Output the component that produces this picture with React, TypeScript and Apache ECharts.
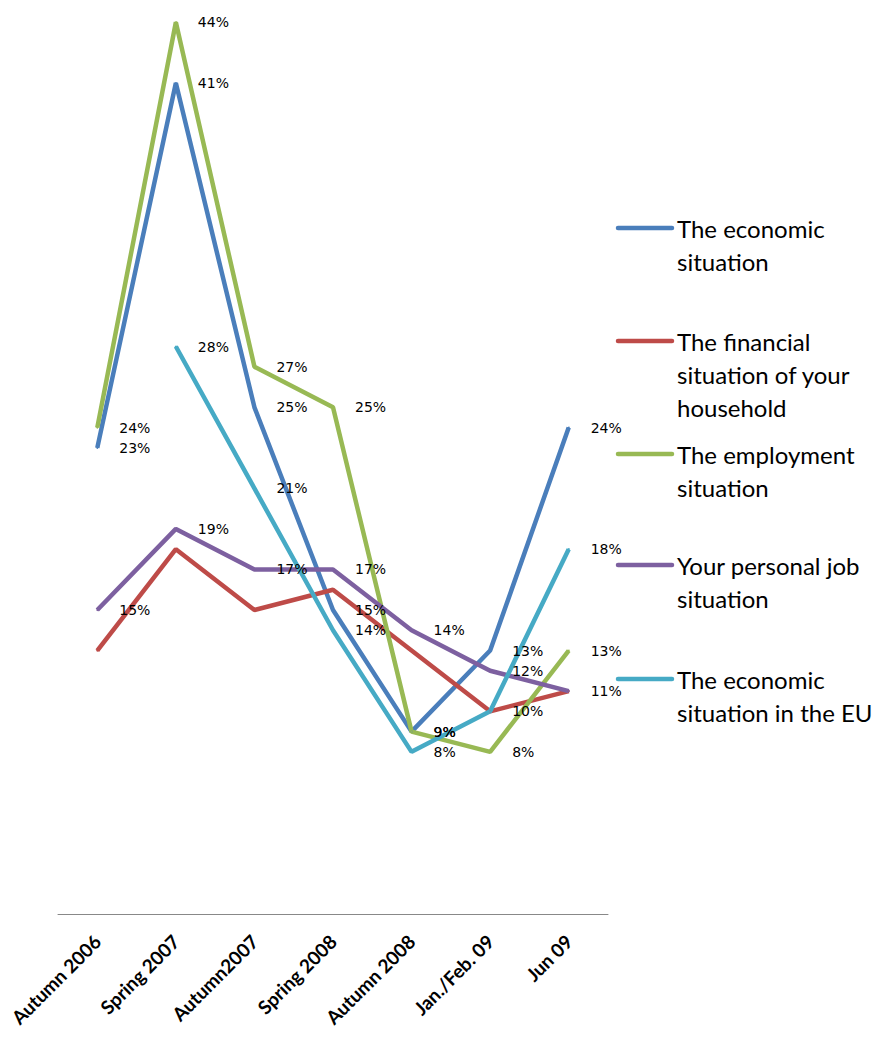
import React, { useEffect, useRef } from "react";
import * as echarts from "echarts";

const categories = [
  "Autumn 2006",
  "Spring 2007",
  "Autumn2007",
  "Spring 2008",
  "Autumn 2008",
  "Jan./Feb. 09",
  "Jun 09",
];

const seriesNames = [
  "The economic situation",
  "The financial situation of your household",
  "The employment situation",
  "Your personal job situation",
  "The economic situation in the EU",
];

const legendLabels = [
  "The economic\nsituation",
  "The financial\nsituation of your\nhousehold",
  "The employment\nsituation",
  "Your personal job\nsituation",
  "The economic\nsituation in the EU",
];

const economic = [23, 41, 25, 15, 9, 13, 24];
const financial = [13, 18, 15, 16, 13, 10, 11];
const employment = [24, 44, 27, 25, 9, 8, 13];
const personalJob = [15, 19, 17, 17, 14, 12, 11];
const economicEU = [null, 28, 21, 14, 8, 10, 18];

const seriesData = [economic, financial, employment, personalJob, economicEU];
const showLabels = [true, false, true, true, true];
const colors = ["#4A7EBB", "#BE4B48", "#98B954", "#7D60A0", "#46AAC5"];

export default function App() {
  const ref = useRef<HTMLDivElement>(null);

  useEffect(() => {
    document.body.style.margin = "0";
    if (!ref.current) return;
    const chart = echarts.init(ref.current, null, { renderer: "svg" });

    const legendY = [228, 341, 454, 565, 679];
    const graphic: any[] = [];
    legendLabels.forEach((lab, i) => {
      graphic.push({
        type: "line",
        shape: { x1: 618, y1: legendY[i], x2: 672, y2: legendY[i] },
        style: { stroke: colors[i], lineWidth: 4.5, lineCap: "round" },
        z: 100,
      });
      graphic.push({
        type: "text",
        x: 677,
        y: legendY[i] - 16.5,
        style: {
          text: lab,
          fontFamily: "Lato",
          fontSize: 24,
          lineHeight: 33,
          fill: "#000",
          verticalAlign: "top",
          align: "left",
        },
        z: 100,
      });
    });

    chart.setOption({
      animation: false,
      backgroundColor: "#fff",
      grid: { left: 58, right: 268, top: 2, bottom: 125 },
      xAxis: {
        type: "category",
        data: categories,
        boundaryGap: true,
        axisLine: { show: true, lineStyle: { color: "#888", width: 1 } },
        axisTick: { show: false },
        axisLabel: {
          rotate: 45,
          margin: 24,
          interval: 0,
          fontFamily: "Lato",
          fontWeight: "bold",
          fontSize: 19,
          color: "#000",
        },
      },
      yAxis: {
        type: "value",
        min: 0,
        max: 45,
        show: false,
        splitLine: { show: false },
      },
      graphic,
      series: seriesData.map((d, i) => ({
        type: "line",
        name: seriesNames[i],
        data: d,
        symbol: "circle",
        symbolSize: 2,
        showSymbol: true,
        connectNulls: false,
        lineStyle: { color: colors[i], width: 4.5 },
        itemStyle: { color: colors[i] },
        label: {
          show: showLabels[i],
          position: "right",
          distance: 21,
          formatter: "{c}%",
          fontFamily: "DejaVu Sans",
          fontSize: 14,
          color: "#000",
        },
      })),
    });

    return () => chart.dispose();
  }, []);

  return <div ref={ref} style={{ width: 876, height: 1039 }} />;
}
